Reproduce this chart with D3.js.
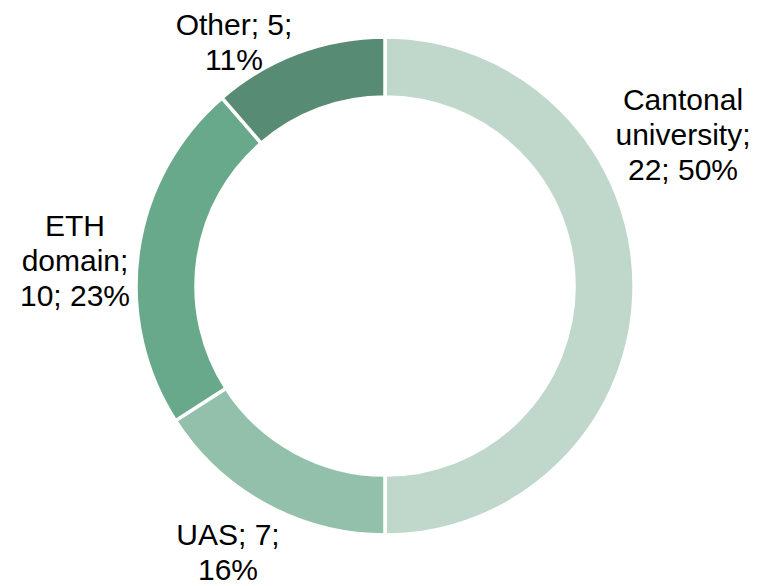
<!DOCTYPE html>
<html>
<head>
<meta charset="utf-8">
<script src="https://cdn.jsdelivr.net/npm/d3@7"></script>
<style>
  html, body { margin: 0; padding: 0; background: #fff; }
  svg { display: block; }
</style>
</head>
<body>
<div id="chart"></div>
<script>
const categories = ['Cantonal university', 'UAS', 'ETH domain', 'Other'];
const counts = [22, 7, 10, 5];
const percents = ['50%', '16%', '23%', '11%'];
const colours = ['#bfd8cb', '#93c0aa', '#69a98b', '#578b73'];

// label lines as Excel wrapped them
const labelLines = [
    ['Cantonal', 'university;', '22; 50%'],
    ['UAS; 7;', '16%'],
    ['ETH', 'domain;', '10; 23%'],
    ['Other; 5;', '11%']
];

document.addEventListener('DOMContentLoaded', () => {
    const fullWidth = 763
    const fullHeight = 586
    const cx = 385
    const cy = 286
    const outerR = 249
    const innerR = 189

    const svg = d3.select('#chart')
        .append('svg')
        .attr('width', fullWidth)
        .attr('height', fullHeight);

    const data = categories.map((c, i) => ({ name: c, count: counts[i], pct: percents[i] }));

    const pie = d3.pie()
        .value(d => d.count)
        .sort(null);
    const arcs = pie(data);

    const arc = d3.arc()
        .innerRadius(innerR)
        .outerRadius(outerR);

    const colourScale = d3.scaleOrdinal()
        .domain(categories)
        .range(colours);

    const g = svg.append('g')
        .attr('transform', `translate(${cx}, ${cy})`);

    // Slices
    g.selectAll('path')
        .data(arcs)
        .enter()
        .append('path')
        .attr('d', arc)
        .attr('fill', d => colourScale(d.data.name))
        .attr('stroke', '#fff')
        .attr('stroke-width', 3.5);

    // Labels (position relative to centre, placed like Excel's best fit)
    const labelPos = [[298, -176], [-157, 259], [-310, -50], [-151, -251]];
    const lineHeight = 35;

    const labels = g.selectAll('.label')
        .data(arcs)
        .enter()
        .append('text')
        .attr('class', 'label')
        .attr('text-anchor', 'middle')
        .style('font-family', '"Liberation Sans", Arial, sans-serif')
        .style('font-size', '30px')
        .style('fill', '#000');

    labels.each(function (d, i) {
        const t = d3.select(this);
        labelLines[i].forEach((line, j) => {
            t.append('tspan')
                .attr('x', labelPos[i][0])
                .attr('y', labelPos[i][1] + j * lineHeight)
                .text(line);
        });
    });
});
</script>
</body>
</html>
